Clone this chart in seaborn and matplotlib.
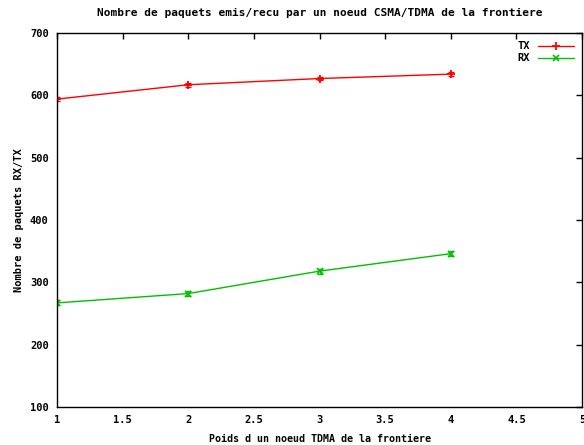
import seaborn as sns
import pandas as pd
from matplotlib import pyplot as plt
from matplotlib.lines import Line2D

# values
poids = [1, 2, 3, 4]
tx = [594, 617, 627, 634]
tx_err = [3, 3, 3, 3]
rx = [267, 282, 318, 346]
rx_err = [4, 4, 4, 4]

sns.set_style('white')
plt.rcParams['font.family'] = ['DejaVu Sans Mono']
plt.rcParams['font.weight'] = 'bold'
plt.rcParams['font.size'] = 7.5
plt.rcParams['text.color'] = 'black'
plt.rcParams['axes.labelcolor'] = 'black'

fig = plt.figure(figsize=(5.84, 4.45), dpi=100)
ax = fig.add_axes([0.0976, 0.0854, 0.8990, 0.8404])

df = pd.DataFrame({'x': poids, 'TX': tx, 'RX': rx})
red = '#ff0000'
green = '#00c000'

sns.lineplot(data=df, x='x', y='TX', color=red, lw=1, marker='+', markersize=6,
             markeredgewidth=1.3, markeredgecolor=red, ax=ax)
sns.lineplot(data=df, x='x', y='RX', color=green, lw=1, marker='x', markersize=5,
             markeredgewidth=1.2, markeredgecolor=green, ax=ax)
ax.errorbar(poids, tx, yerr=tx_err, fmt='none', ecolor=red, elinewidth=1, capsize=2.5)
ax.errorbar(poids, rx, yerr=rx_err, fmt='none', ecolor=green, elinewidth=1, capsize=2.5)

ax.set_xlim(1, 5)
ax.set_ylim(100, 700)
ax.set_xticks([1, 1.5, 2, 2.5, 3, 3.5, 4, 4.5, 5])
ax.set_xticklabels(['1', '1.5', '2', '2.5', '3', '3.5', '4', '4.5', '5'])
ax.set_yticks(range(100, 701, 100))
ax.tick_params(direction='in', length=4, width=1, top=True, right=True, colors='black',
               labelsize=7.5, pad=6)
for s in ax.spines.values():
    s.set_color('black')
    s.set_linewidth(1)

ax.set_xlabel('Poids d un noeud TDMA de la frontiere', fontsize=7.2, fontweight='bold', labelpad=6)
ax.set_ylabel('Nombre de paquets RX/TX', fontsize=7.5, fontweight='bold', labelpad=4)
ax.set_title('Nombre de paquets emis/recu par un noeud CSMA/TDMA de la frontiere',
             fontsize=8, fontweight='bold', pad=12, color='black')

handles = [Line2D([], [], color=red, lw=1, marker='+', markersize=6, markeredgewidth=1.3),
           Line2D([], [], color=green, lw=1, marker='x', markersize=5, markeredgewidth=1.2)]
ax.legend(handles, ['TX', 'RX'], loc='upper right', frameon=False, markerfirst=False,
          numpoints=1, handlelength=3.4, fontsize=7.5, borderaxespad=0.4,
          labelspacing=0.2, handletextpad=0.8)

fig.savefig('out.png', dpi=100)
